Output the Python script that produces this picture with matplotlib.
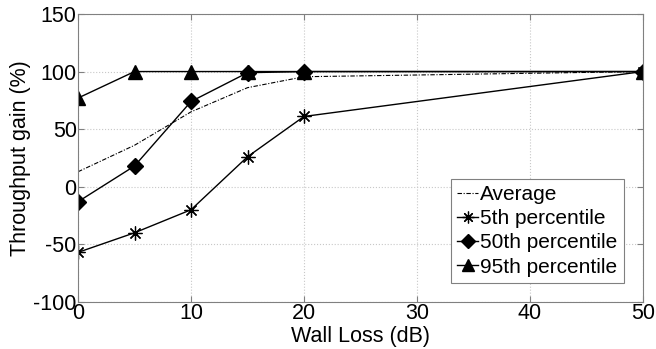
import matplotlib.pyplot as plt

plt.rcParams['font.family'] = ['Liberation Sans', 'DejaVu Sans']
plt.rcParams['axes.unicode_minus'] = False

wall_loss = [0, 5, 10, 15, 20, 50]
avg_gain = [13, 36, 65, 86, 95.5, 100]
p5_gain = [-57, -40, -20, 26, 61, 100]
p50_gain = [-13, 18, 74, 99, 100, 100]
p95_gain = [77, 100, 100, 100, 100, 100]

fig = plt.figure(figsize=(6.56, 3.49), dpi=100)
ax = fig.add_axes([0.119, 0.135, 0.861, 0.825])

ax.plot(wall_loss, avg_gain, color='black', linestyle=(0, (4, 1.5, 1, 1.5)),
        linewidth=0.8, label='Average')
ax.plot(wall_loss, p5_gain, color='black', linewidth=1, marker=(8, 2, 0),
        markersize=10, markeredgewidth=0.9, label='5th percentile')
ax.plot(wall_loss, p50_gain, color='black', linewidth=1, marker='D',
        markersize=8, label='50th percentile')
ax.plot(wall_loss, p95_gain, color='black', linewidth=1, marker='^',
        markersize=10, label='95th percentile')

ax.set_xlim(0, 50)
ax.set_ylim(-100, 150)
ax.set_xticks([0, 10, 20, 30, 40, 50])
ax.set_yticks([-100, -50, 0, 50, 100, 150])
ax.grid(True, linestyle=':', color='#c8c8c8', linewidth=0.8)
for s in ax.spines.values():
    s.set_color('#808080')
ax.tick_params(direction='in', colors='#808080', labelcolor='black',
               labelsize=15.5, top=True, right=True, length=4, pad=1)

ax.set_xlabel('Wall Loss (dB)', fontsize=15.5, labelpad=1)
ax.set_ylabel('Throughput gain (%)', fontsize=15.5, labelpad=2)

leg = ax.legend(loc='lower right', bbox_to_anchor=(0.966, 0.066), fontsize=15,
                handlelength=1.0, handletextpad=0.1, borderpad=0.3,
                labelspacing=0.25, borderaxespad=0, fancybox=False,
                framealpha=1, edgecolor='#808080', markerscale=0.85)
leg.get_frame().set_linewidth(0.8)

plt.savefig('out.png', dpi=100)
